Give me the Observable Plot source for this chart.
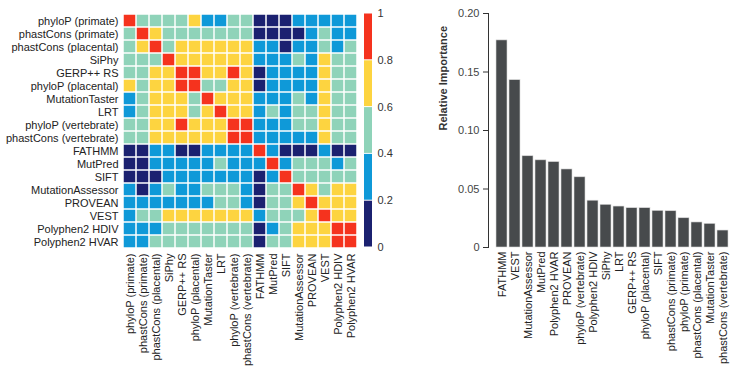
<!DOCTYPE html>
<html>
<head>
<meta charset="utf-8">
<script src="https://cdn.jsdelivr.net/npm/d3@7"></script>
<script src="https://cdn.jsdelivr.net/npm/@observablehq/plot@0.6"></script>
<style>
  html, body { margin: 0; padding: 0; background: #fff; }
  #chart { position: relative; width: 739px; height: 372px; font-family: "Liberation Sans", Arial, Helvetica, sans-serif; }
  #chart svg { position: absolute; top: 0; overflow: visible; }
</style>
</head>
<body>
<div id="chart"></div>
<script>
// Prediction scores, in matrix order
const scores = [
  "phyloP (primate)", "phastCons (primate)", "phastCons (placental)", "SiPhy",
  "GERP++ RS", "phyloP (placental)", "MutationTaster", "LRT",
  "phyloP (vertebrate)", "phastCons (vertebrate)", "FATHMM", "MutPred",
  "SIFT", "MutationAssessor", "PROVEAN", "VEST", "Polyphen2 HDIV", "Polyphen2 HVAR"
];

// Pairwise rank correlation between scores (row i, column j)
const correlation = [
  [1.0, 0.5, 0.5, 0.5, 0.5, 0.7, 0.3, 0.3, 0.5, 0.5, 0.1, 0.1, 0.1, 0.3, 0.3, 0.3, 0.3, 0.3],
  [0.5, 1.0, 0.7, 0.5, 0.5, 0.5, 0.5, 0.5, 0.5, 0.5, 0.1, 0.1, 0.1, 0.1, 0.3, 0.5, 0.3, 0.3],
  [0.5, 0.7, 1.0, 0.5, 0.7, 0.7, 0.7, 0.7, 0.7, 0.7, 0.3, 0.3, 0.1, 0.3, 0.3, 0.5, 0.3, 0.5],
  [0.5, 0.5, 0.5, 1.0, 0.7, 0.7, 0.7, 0.7, 0.7, 0.7, 0.3, 0.3, 0.3, 0.5, 0.3, 0.7, 0.5, 0.5],
  [0.5, 0.5, 0.7, 0.7, 1.0, 0.9, 0.7, 0.7, 0.9, 0.7, 0.1, 0.3, 0.3, 0.3, 0.3, 0.7, 0.5, 0.5],
  [0.7, 0.5, 0.7, 0.7, 0.9, 1.0, 0.5, 0.5, 0.7, 0.7, 0.1, 0.3, 0.3, 0.3, 0.3, 0.7, 0.5, 0.5],
  [0.3, 0.5, 0.7, 0.7, 0.7, 0.5, 1.0, 0.7, 0.7, 0.7, 0.3, 0.3, 0.3, 0.5, 0.3, 0.7, 0.5, 0.5],
  [0.3, 0.5, 0.7, 0.7, 0.7, 0.5, 0.7, 1.0, 0.7, 0.7, 0.3, 0.5, 0.3, 0.5, 0.5, 0.7, 0.5, 0.5],
  [0.5, 0.5, 0.7, 0.7, 0.9, 0.7, 0.7, 0.7, 1.0, 0.9, 0.3, 0.3, 0.3, 0.5, 0.5, 0.7, 0.5, 0.5],
  [0.5, 0.5, 0.7, 0.7, 0.7, 0.7, 0.7, 0.7, 0.9, 1.0, 0.3, 0.3, 0.3, 0.3, 0.3, 0.7, 0.5, 0.5],
  [0.1, 0.1, 0.3, 0.3, 0.1, 0.1, 0.3, 0.3, 0.3, 0.3, 1.0, 0.3, 0.1, 0.1, 0.1, 0.3, 0.1, 0.1],
  [0.1, 0.1, 0.3, 0.3, 0.3, 0.3, 0.3, 0.5, 0.3, 0.3, 0.3, 1.0, 0.3, 0.5, 0.5, 0.5, 0.3, 0.5],
  [0.1, 0.1, 0.1, 0.3, 0.3, 0.3, 0.3, 0.3, 0.3, 0.3, 0.1, 0.3, 1.0, 0.5, 0.5, 0.5, 0.5, 0.5],
  [0.3, 0.1, 0.3, 0.5, 0.3, 0.3, 0.5, 0.5, 0.5, 0.3, 0.1, 0.5, 0.5, 1.0, 0.7, 0.5, 0.7, 0.7],
  [0.3, 0.3, 0.3, 0.3, 0.3, 0.3, 0.3, 0.5, 0.5, 0.3, 0.1, 0.5, 0.5, 0.7, 1.0, 0.7, 0.7, 0.7],
  [0.3, 0.5, 0.5, 0.7, 0.7, 0.7, 0.7, 0.7, 0.7, 0.7, 0.3, 0.5, 0.5, 0.5, 0.7, 1.0, 0.7, 0.7],
  [0.3, 0.3, 0.3, 0.5, 0.5, 0.5, 0.5, 0.5, 0.5, 0.5, 0.1, 0.3, 0.5, 0.7, 0.7, 0.7, 1.0, 0.9],
  [0.3, 0.3, 0.5, 0.5, 0.5, 0.5, 0.5, 0.5, 0.5, 0.5, 0.1, 0.5, 0.5, 0.7, 0.7, 0.7, 0.9, 1.0]
];

// Colour bins of the correlation scale
const binEdges = [0.2, 0.4, 0.6, 0.8];
const binColors = ["#1b2170", "#0f99d8", "#8fd3b9", "#fdd440", "#f5331e"];
const legendTicks = [0, 0.2, 0.4, 0.6, 0.8, 1];

// Random-forest relative importance, sorted
const importanceNames = [
  "FATHMM", "VEST", "MutationAssessor", "MutPred", "Polyphen2 HVAR", "PROVEAN",
  "phyloP (vertebrate)", "Polyphen2 HDIV", "SiPhy", "LRT", "GERP++ RS",
  "phyloP (placental)", "SIFT", "phastCons (primate)", "phyloP (primate)",
  "phastCons (placental)", "MutationTaster", "phastCons (vertebrate)"
];
const importanceValues = [
  0.177, 0.143, 0.078, 0.0745, 0.073, 0.0667,
  0.060, 0.040, 0.0365, 0.035, 0.0336,
  0.0336, 0.0313, 0.031, 0.025,
  0.0214, 0.0202, 0.0145
];
const importanceTicks = [0, 0.05, 0.1, 0.15, 0.2];

const font = {fontFamily: "'Liberation Sans', Arial, Helvetica, sans-serif", fontSize: "11px", color: "#222", background: "transparent"};
const colorScale = {type: "threshold", domain: binEdges, range: binColors};

const cells = [];
correlation.forEach((row, i) => row.forEach((v, j) => cells.push({row: scores[i], col: scores[j], v})));

const heat = Plot.plot({
  width: 362, height: 372,
  marginLeft: 122, marginRight: 4, marginTop: 13, marginBottom: 123,
  style: font,
  x: {domain: scores, padding: 0, axis: null},
  y: {domain: scores, padding: 0, axis: null},
  color: colorScale,
  marks: [
    Plot.cell(cells, {x: "col", y: "row", fill: "v", inset: 0.75}),
    Plot.axisX({anchor: "bottom", tickRotate: -90, tickSize: 0, tickPadding: 4, label: null, fill: "#222"}),
    Plot.axisY({anchor: "left", tickSize: 0, tickPadding: 4, label: null, fill: "#222"})
  ]
});
heat.style.left = "0px";

const bins = binColors.map((c, i) => ({lo: i === 0 ? 0 : binEdges[i - 1], hi: i === binEdges.length ? 1 : binEdges[i], mid: i === 0 ? 0.1 : (i === binEdges.length ? 0.9 : (binEdges[i - 1] + binEdges[i]) / 2)}));

const legend = Plot.plot({
  width: 50, height: 372,
  marginLeft: 9, marginRight: 33, marginTop: 13, marginBottom: 125,
  style: font,
  y: {domain: [0, 1], axis: null},
  color: colorScale,
  marks: [
    Plot.rect(bins, {y1: "lo", y2: "hi", fill: "mid", insetTop: 0.5, insetBottom: 0.5}),
    Plot.axisY({anchor: "right", ticks: legendTicks, tickFormat: d => `${+d.toFixed(1)}`, tickSize: 0, tickPadding: 5, label: null, fill: "#333"})
  ]
});
legend.style.left = "355px";

const bars = importanceNames.map((name, i) => ({name, value: importanceValues[i]}));

const barChart = Plot.plot({
  width: 339, height: 372,
  marginLeft: 88, marginRight: 8, marginTop: 13, marginBottom: 125,
  style: font,
  x: {domain: importanceNames, padding: 0.17, insetLeft: 5, axis: null},
  y: {domain: [0, 0.2], axis: null},
  marks: [
    Plot.barY(bars, {x: "name", y: "value", fill: "#474a4c", stroke: "#d8d8d8", strokeWidth: 0.6}),
    Plot.frame({anchor: "left", stroke: "#333"}),
    Plot.axisY({anchor: "left", ticks: importanceTicks, tickFormat: d => d === 0 ? "0" : d.toFixed(2), tickSize: 5, tickPadding: 4, label: null, fill: "#444", stroke: "#333"}),
    Plot.axisX({anchor: "bottom", tickRotate: -90, tickSize: 0, tickPadding: 4, label: null, fill: "#222"}),
    Plot.text(["Relative Importance"], {frameAnchor: "left", rotate: -90, dx: -45, fontWeight: "bold", fill: "#333", fontSize: 11})
  ]
});
barChart.style.left = "400px";

const chart = document.getElementById("chart");
chart.append(heat, legend, barChart);
</script>
</body>
</html>
